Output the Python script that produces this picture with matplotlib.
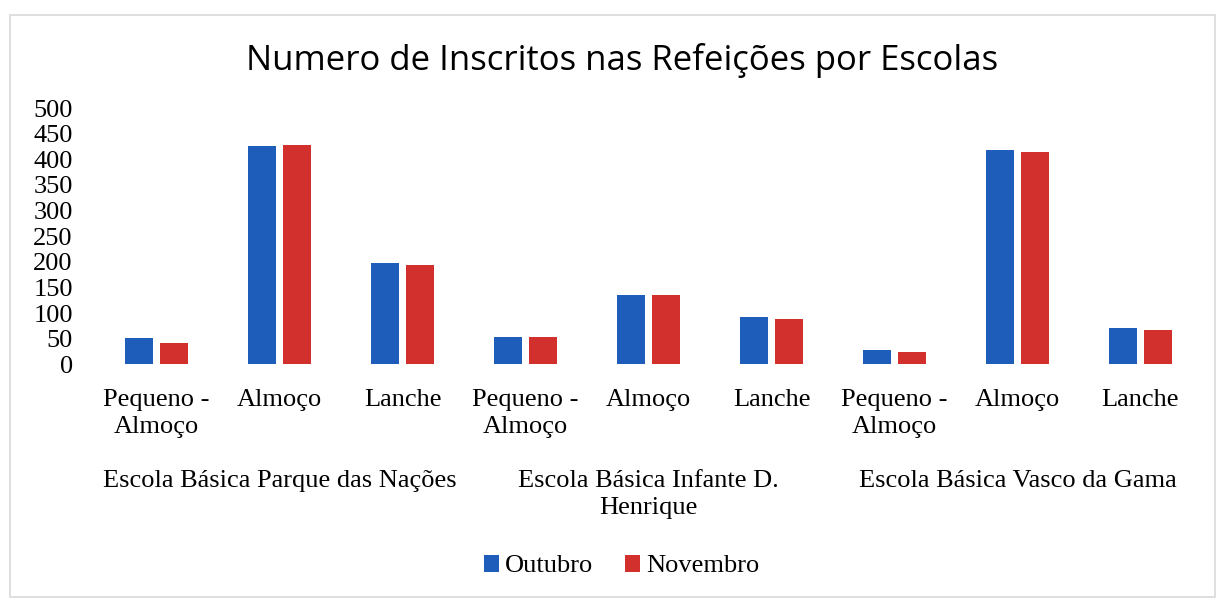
import numpy as np
import matplotlib.pyplot as plt
from matplotlib.patches import Rectangle
from matplotlib.transforms import blended_transform_factory

schools = [
    "Escola Básica Parque das Nações",
    "Escola Básica Infante D.\nHenrique",
    "Escola Básica Vasco da Gama",
]
meals = ["Pequeno -\nAlmoço", "Almoço", "Lanche"]

outubro = [52, 427, 197, 54, 136, 93, 27, 418, 70]
novembro = [42, 429, 193, 54, 136, 88, 23, 415, 66]

yticks = [0, 50, 100, 150, 200, 250, 300, 350, 400, 450, 500]

blue = "#1F5DBA"
red = "#D2302C"
serif = "Liberation Serif"
fs = 19

fig = plt.figure(figsize=(12.19, 6.01), dpi=100)
fig.patches.append(Rectangle((0.008, 0.007), 0.989, 0.968, transform=fig.transFigure,
                             fill=False, edgecolor="#d9d9d9", linewidth=1.2))
ax = fig.add_axes([0.078, 0.394, 0.908, 0.426])

x = np.arange(len(outubro))
w = 0.23
off = 0.143
ax.bar(x - off, outubro, w, color=blue, label="Outubro")
ax.bar(x + off, novembro, w, color=red, label="Novembro")

ax.set_xlim(-0.5, len(outubro) - 0.5)
ax.set_ylim(0, 500)
ax.set_yticks(yticks)
ax.set_yticklabels([str(t) for t in yticks], fontfamily=serif, fontsize=fs)
ax.set_xticks(x)
ax.set_xticklabels(meals * 3, fontfamily=serif, fontsize=fs, va="top", linespacing=1.3)
ax.tick_params(length=0, axis="both")
ax.tick_params(axis="x", pad=18)
ax.tick_params(axis="y", pad=16)
for s in ax.spines.values():
    s.set_visible(False)

tr = blended_transform_factory(ax.transData, ax.transAxes)
for i, name in enumerate(schools):
    ax.text(3 * i + 1, -0.413, name, transform=tr, ha="center", va="top",
            fontfamily=serif, fontsize=fs, linespacing=1.3)

fig.text(0.51, 0.9, "Numero de Inscritos nas Refeições por Escolas",
         ha="center", va="center", fontfamily="Open Sans", fontsize=25)

fig.legend(loc="center", bbox_to_anchor=(0.51, 0.058), ncol=2, frameon=False,
           prop={"family": serif, "size": fs}, handlelength=0.55, handleheight=0.6,
           handletextpad=0.25, columnspacing=1.2)

fig.savefig("out.png", dpi=100)
plt.close(fig)
